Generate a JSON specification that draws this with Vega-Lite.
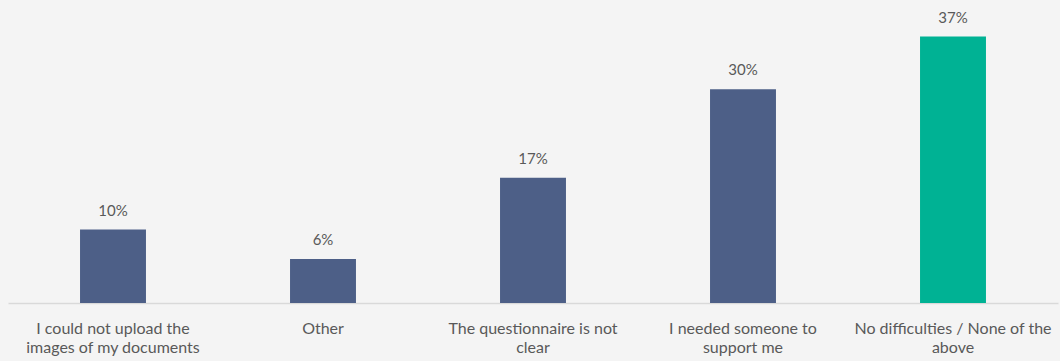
{
  "$schema": "https://vega.github.io/schema/vega-lite/v6.json",
  "autosize": "none",
  "width": 1050,
  "height": 288,
  "padding": {"left": 8, "top": 15, "right": 2, "bottom": 58},
  "background": "#f4f4f4",
  "config": {"view": {"stroke": null}, "font": "Lato"},
  "data": {
    "values": [
      {"category": "I could not upload the\nimages of my documents", "value": 0.102, "group": "difficulty"},
      {"category": "Other", "value": 0.061, "group": "difficulty"},
      {"category": "The questionnaire is not\nclear", "value": 0.174, "group": "difficulty"},
      {"category": "I needed someone to\nsupport me", "value": 0.297, "group": "difficulty"},
      {"category": "No difficulties / None of the\nabove", "value": 0.370, "group": "none"}
    ]
  },
  "encoding": {
    "x": {
      "field": "category",
      "type": "nominal",
      "sort": null,
      "scale": {"paddingInner": 0.686, "paddingOuter": 0.343},
      "axis": {
        "title": null,
        "labelAngle": 0,
        "labelExpr": "split(datum.label, '\\n')",
        "labelFontSize": 16,
        "labelColor": "#595959",
        "labelLineHeight": 19.5,
        "labelPadding": 17,
        "labelBaseline": "top",
        "labelLimit": 300,
        "ticks": false,
        "domainColor": "#d9d9d9",
        "domainWidth": 1.5
      }
    },
    "y": {
      "field": "value",
      "type": "quantitative",
      "scale": {"domain": [0, 0.4]},
      "axis": null
    }
  },
  "layer": [
    {
      "mark": {"type": "bar"},
      "encoding": {
        "color": {
          "field": "group",
          "type": "nominal",
          "scale": {"domain": ["difficulty", "none"], "range": ["#4d5f87", "#00b294"]},
          "legend": null
        }
      }
    },
    {
      "mark": {"type": "text", "baseline": "alphabetic", "dy": -14, "fontSize": 15, "color": "#595959"},
      "encoding": {
        "text": {"field": "value", "type": "quantitative", "format": ".0%"}
      }
    }
  ]
}
